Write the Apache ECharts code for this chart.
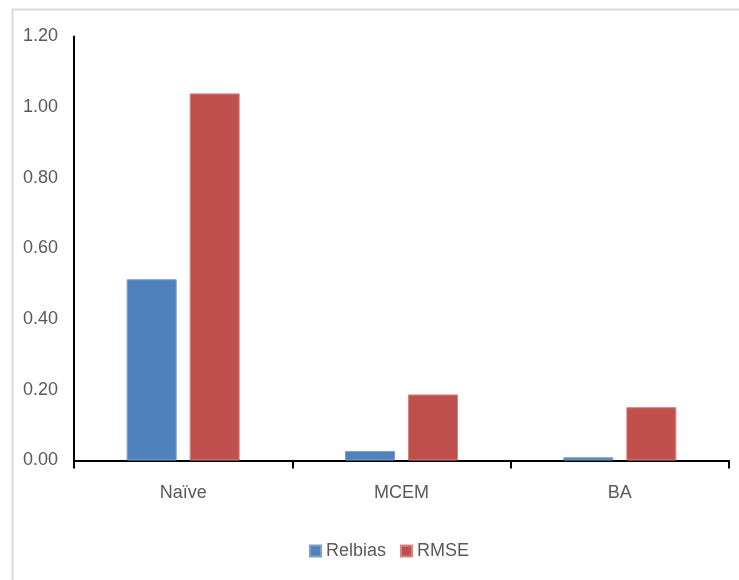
<!DOCTYPE html>
<html>
<head>
<meta charset="utf-8">
<script src="https://cdn.jsdelivr.net/npm/echarts@6/dist/echarts.min.js"></script>
<style>
  html, body { margin: 0; padding: 0; background: #ffffff; }
  #chart { width: 739px; height: 580px; }
</style>
</head>
<body>
<div id="chart"></div>
<script>
// Estimation methods compared
const methods = ['Naïve', 'MCEM', 'BA'];
// Relative bias per method
const relbias = [0.513, 0.027, 0.009];
// Root mean squared error per method
const rmse = [1.039, 0.187, 0.151];
// Value axis ticks
const yTicks = { min: 0, max: 1.2, interval: 0.2 };

const font = '"Liberation Sans Narrow", "Liberation Sans", Arial, sans-serif';
const chart = echarts.init(document.getElementById('chart'), null, { renderer: 'canvas' });

chart.setOption({
  animation: false,
  backgroundColor: '#ffffff',
  graphic: [{
    // chart frame (only its top and left edges fall inside the canvas)
    type: 'rect',
    left: 10, top: 7,
    shape: { width: 760, height: 600 },
    style: { fill: 'none', stroke: '#d9d9d9', lineWidth: 2 },
    silent: true
  }],
  grid: { left: 74, right: 10, top: 36.5, bottom: 119.5, containLabel: false },
  legend: {
    data: ['Relbias', 'RMSE'],
    top: 537,
    left: 304,
    icon: 'rect',
    itemWidth: 11,
    itemHeight: 11,
    itemGap: 14,
    textStyle: { color: '#595959', fontSize: 18, fontFamily: font }
  },
  xAxis: {
    type: 'category',
    data: methods,
    axisLine: { show: true, lineStyle: { color: '#000000', width: 2 } },
    axisTick: { show: true, length: 8, lineStyle: { color: '#000000', width: 2 } },
    axisLabel: { color: '#595959', fontSize: 18, fontFamily: font, margin: 24 }
  },
  yAxis: {
    type: 'value',
    min: yTicks.min,
    max: yTicks.max,
    interval: yTicks.interval,
    axisLine: { show: true, lineStyle: { color: '#000000', width: 2 } },
    axisTick: { show: false },
    splitLine: { show: false },
    axisLabel: {
      color: '#595959', fontSize: 18, fontFamily: font, margin: 16,
      formatter: v => v.toFixed(2)
    }
  },
  series: [
    {
      name: 'Relbias', type: 'bar', data: relbias,
      barWidth: 50, barGap: '26%',
      itemStyle: { color: '#4f81bd', borderColor: '#7a9fd0', borderWidth: 1 }
    },
    {
      name: 'RMSE', type: 'bar', data: rmse,
      barWidth: 50,
      itemStyle: { color: '#c0504d', borderColor: '#d88381', borderWidth: 1 }
    }
  ]
});
</script>
</body>
</html>
